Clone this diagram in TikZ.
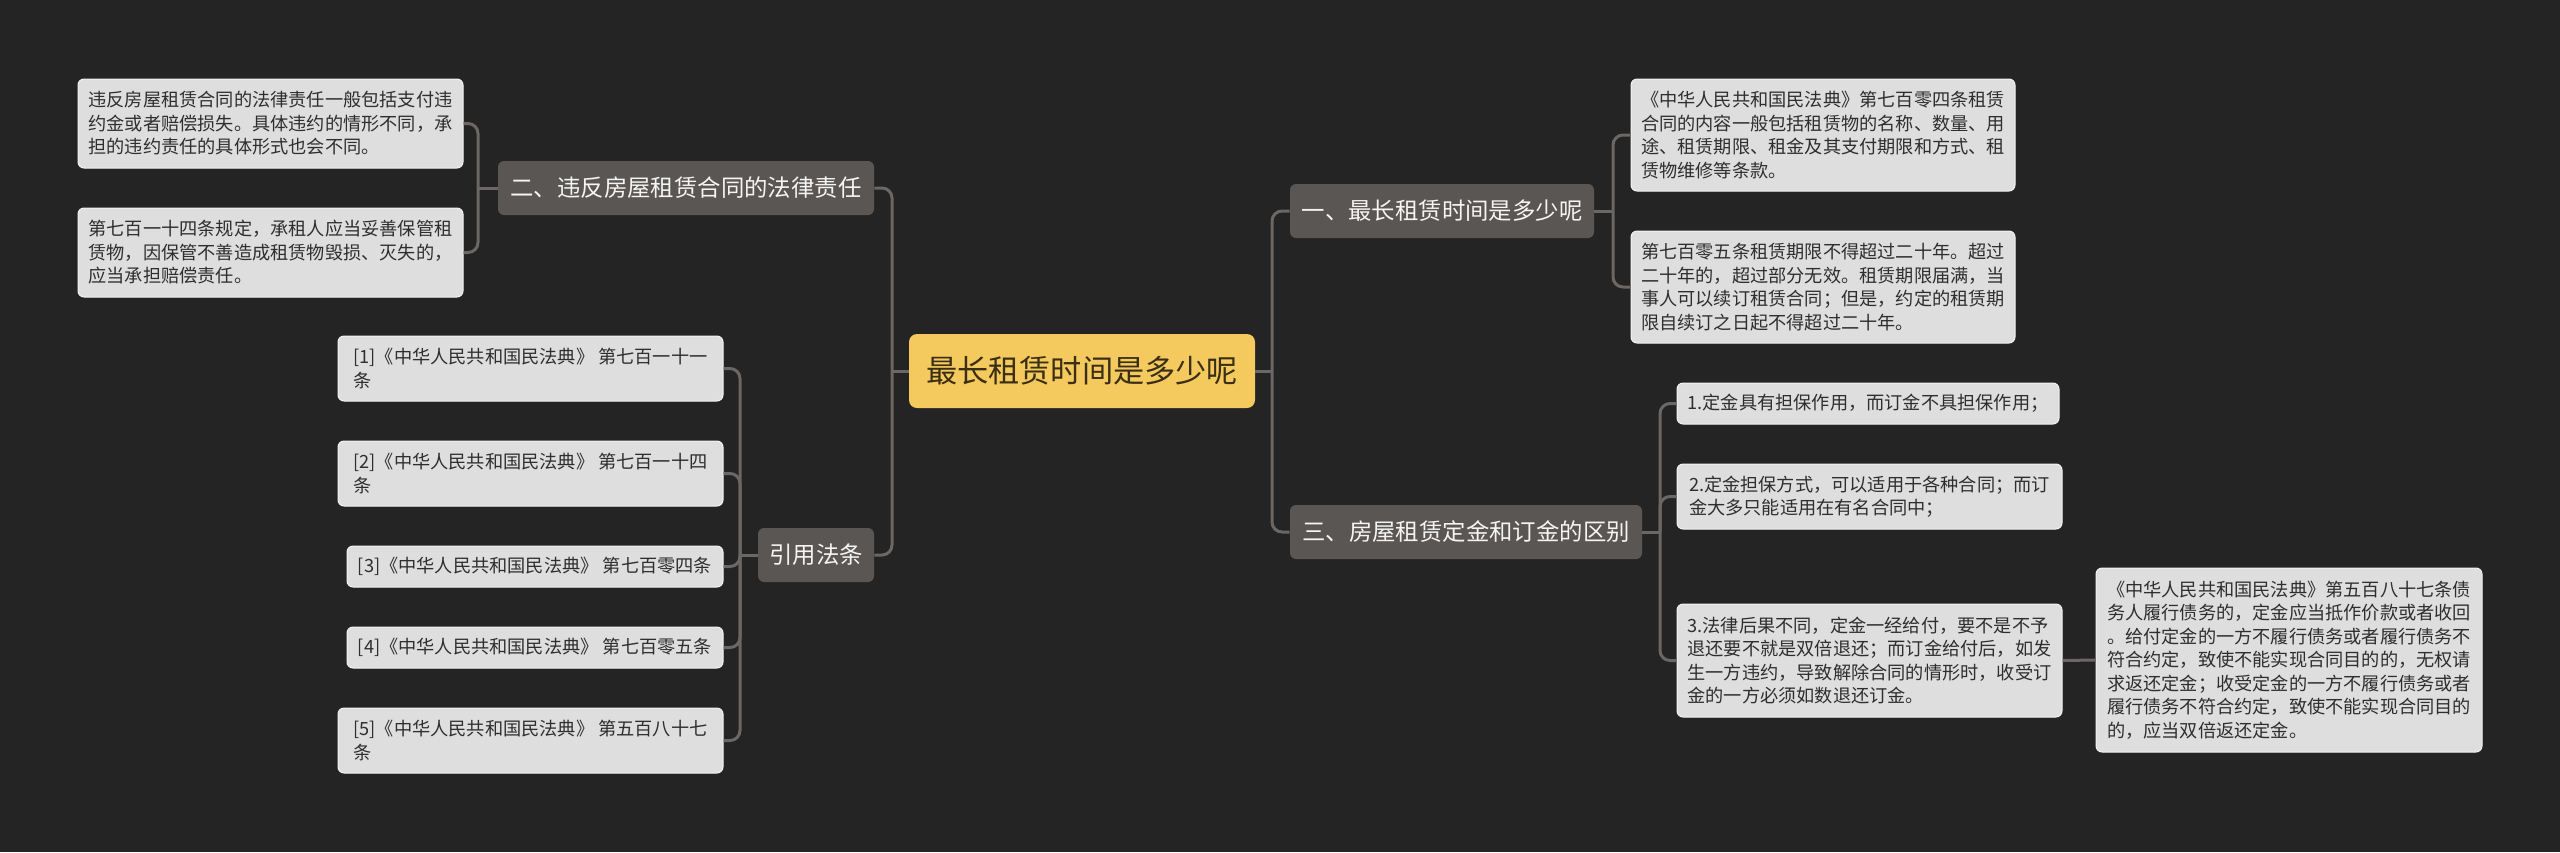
\documentclass[tikz,border=0pt]{standalone}
\usepackage{fontspec}
\setmainfont{Noto Sans CJK SC}
\usepackage{xcolor}
\usepackage{tikz}
\usetikzlibrary{positioning,calc}
\definecolor{bgdark}{HTML}{242424}
\definecolor{branchgray}{HTML}{5A5653}
\definecolor{leafgray}{HTML}{DEDEDE}
\definecolor{leafedge}{HTML}{F2F2F2}
\definecolor{leaftext}{HTML}{2E2E2E}
\definecolor{rootyellow}{HTML}{F4C95D}
\definecolor{roottext}{HTML}{3A2E14}
\definecolor{linkgray}{HTML}{6A6764}
\tikzset{
  link/.style={draw=linkgray,line width=1.5pt,rounded corners=5pt},
  leaf/.style={rectangle,rounded corners=3pt,fill=leafgray,draw=leafedge,
    line width=0.5pt,text=leaftext,align=left,inner sep=0pt,
    font=\fontsize{9.1pt}{11.75pt}\selectfont},
  branch/.style={rectangle,rounded corners=3pt,fill=branchgray,
    text=white!92!gray,inner sep=0pt,minimum height=27pt,
    font=\fontsize{11.7pt}{14pt}\selectfont},
  rootbox/.style={rectangle,rounded corners=4pt,fill=rootyellow,
    text=roottext,inner sep=0pt,minimum width=173pt,minimum height=37pt,
    font=\fontsize{15.6pt}{18pt}\selectfont},
}
\begin{document}
\begin{tikzpicture}[x=0.5pt,y=-0.5pt]
\fill[bgdark] (0,0) rectangle (2560,852);

% centre and main topics
\node[rootbox] (root) at (1082,371) {最长租赁时间是多少呢};
\node[branch,minimum width=188pt] (sec2) at (686,188) {二、违反房屋租赁合同的法律责任};
\node[branch,minimum width=58pt] (cite) at (816,555) {引用法条};
\node[branch,minimum width=152pt] (sec1) at (1442,211) {一、最长租赁时间是多少呢};
\node[branch,minimum width=176pt] (sec3) at (1466,532) {三、房屋租赁定金和订金的区别};

% left leaves
\node[leaf,minimum width=192.5pt,minimum height=44.5pt] (duty) at (270.5,123.5)
  {违反房屋租赁合同的法律责任一般包括支付违\\约金或者赔偿损失。具体违约的情形不同，承\\担的违约责任的具体形式也会不同。};
\node[leaf,minimum width=192.5pt,minimum height=44.5pt] (keep) at (270.5,252.5)
  {第七百一十四条规定，承租人应当妥善保管租\\赁物，因保管不善造成租赁物毁损、灭失的，\\应当承担赔偿责任。};
\node[leaf,minimum width=192.5pt,minimum height=32.5pt] (ref1) at (530.5,368.5)
  {[1]《中华人民共和国民法典》 第七百一十一\\条};
\node[leaf,minimum width=192.5pt,minimum height=32.5pt] (ref2) at (530.5,473.5)
  {[2]《中华人民共和国民法典》 第七百一十四\\条};
\node[leaf,minimum width=188pt,minimum height=20.5pt] (ref3) at (535,566.5)
  {[3]《中华人民共和国民法典》 第七百零四条};
\node[leaf,minimum width=188pt,minimum height=20.5pt] (ref4) at (535,647.5)
  {[4]《中华人民共和国民法典》 第七百零五条};
\node[leaf,minimum width=192.5pt,minimum height=32.5pt] (ref5) at (530.5,740.5)
  {[5]《中华人民共和国民法典》 第五百八十七\\条};

% right leaves
\node[leaf,minimum width=192pt,minimum height=56pt] (content) at (1823,135)
  {《中华人民共和国民法典》第七百零四条租赁\\合同的内容一般包括租赁物的名称、数量、用\\途、租赁期限、租金及其支付期限和方式、租\\赁物维修等条款。};
\node[leaf,minimum width=192pt,minimum height=56pt] (term) at (1823,287)
  {第七百零五条租赁期限不得超过二十年。超过\\二十年的，超过部分无效。租赁期限届满，当\\事人可以续订租赁合同；但是，约定的租赁期\\限自续订之日起不得超过二十年。};
\node[leaf,minimum width=191pt,minimum height=20.5pt] (diff1) at (1868,403.5)
  {1.定金具有担保作用，而订金不具担保作用；};
\node[leaf,minimum width=192.5pt,minimum height=32.5pt] (diff2) at (1869.5,496.5)
  {2.定金担保方式，可以适用于各种合同；而订\\金大多只能适用在有名合同中；};
\node[leaf,minimum width=192.5pt,minimum height=56.5pt] (diff3) at (1869.5,660.5)
  {3.法律后果不同，定金一经给付，要不是不予\\退还要不就是双倍退还；而订金给付后，如发\\生一方违约，导致解除合同的情形时，收受订\\金的一方必须如数退还订金。};
\node[leaf,minimum width=193pt,minimum height=92pt] (law587) at (2289,660)
  {《中华人民共和国民法典》第五百八十七条债\\务人履行债务的，定金应当抵作价款或者收回\\。给付定金的一方不履行债务或者履行债务不\\符合约定，致使不能实现合同目的的，无权请\\求返还定金；收受定金的一方不履行债务或者\\履行债务不符合约定，致使不能实现合同目的\\的，应当双倍返还定金。};

% junctions
\coordinate (jL) at (892,371);
\coordinate (jR) at (1272,371);
\coordinate (j2) at (478,188);
\coordinate (jc) at (740,555);
\coordinate (j1) at (1613,211);
\coordinate (j3) at (1660,532);

\draw[link] (root.west) -- (jL);
\draw[link] (jL) |- (sec2.east);
\draw[link] (jL) |- (cite.east);
\draw[link] (root.east) -- (jR);
\draw[link] (jR) |- (sec1.west);
\draw[link] (jR) |- (sec3.west);

\draw[link] (sec2.west) -- (j2);
\draw[link] (j2) |- (duty.east);
\draw[link] (j2) |- (keep.east);

\draw[link] (cite.west) -- (jc);
\foreach \r in {ref1,ref2,ref3,ref4,ref5}
  \draw[link] (jc) |- (\r.east);

\draw[link] (sec1.east) -- (j1);
\draw[link] (j1) |- (content.west);
\draw[link] (j1) |- (term.west);

\draw[link] (sec3.east) -- (j3);
\foreach \d in {diff1,diff2,diff3}
  \draw[link] (j3) |- (\d.west);
\draw[link] (diff3.east) -- (law587.west);
\end{tikzpicture}
\end{document}
